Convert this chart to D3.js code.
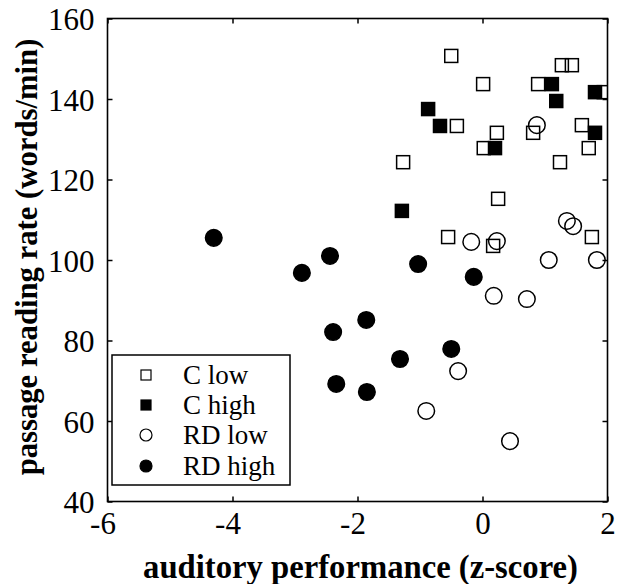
<!DOCTYPE html>
<html><head><meta charset="utf-8">
<script src="https://cdn.jsdelivr.net/npm/d3@7"></script>
<style>body{margin:0;background:#fff}svg{display:block}</style>
</head><body><svg id="c" width="620" height="584"></svg>
<script>
// ---- data ----
const xTicks = [-6, -4, -2, 0, 2];
const yTicks = [40, 60, 80, 100, 120, 140, 160];
const xTitle = "auditory performance (z-score)";
const yTitle = "passage reading rate (words/min)";
const seriesNames = ["C low", "C high", "RD low", "RD high"];

const cLowX = [-0.50, -0.41, 0.01, 0.02, 0.23, 0.25, -1.27, -0.55, 0.17, 0.81, 0.89, 1.27, 1.43, 1.24, 1.59, 1.70, 1.75, 1.94];
const cLowY = [150.7, 133.3, 143.7, 127.8, 131.6, 115.2, 124.3, 105.7, 103.5, 131.6, 143.7, 148.4, 148.4, 124.3, 133.5, 127.8, 105.7, 141.7];

const cHighX = [-0.87, -0.68, 0.20, 1.11, 1.18, 1.80, 1.80, -1.29];
const cHighY = [137.5, 133.3, 127.8, 143.7, 139.5, 141.7, 131.6, 112.2];

const rdLowX = [0.23, -0.18, 1.35, 1.45, 1.06, 1.83, 0.18, 0.71, -0.39, -0.90, 0.44, 0.87];
const rdLowY = [104.7, 104.5, 109.7, 108.4, 100.0, 100.0, 91.1, 90.3, 72.4, 62.5, 55.0, 133.5];

const rdHighX = [-4.30, -2.89, -2.44, -1.03, -0.14, -1.86, -2.39, -0.50, -1.32, -2.34, -1.85];
const rdHighY = [105.5, 96.8, 101.0, 99.0, 95.8, 85.1, 82.1, 77.9, 75.4, 69.2, 67.2];

// ---- layout ----
const svg = d3.select("#c");
const L = 107.5, R = 607.5, T = 18.5, B = 501.5;
const x = d3.scaleLinear().domain([-6, 2]).range([L, R]);
const y = d3.scaleLinear().domain([40, 160]).range([B, T]);
const font = "'Liberation Serif','Times New Roman',serif";

svg.append("defs").append("clipPath").attr("id", "clip")
  .append("rect").attr("x", L).attr("y", T).attr("width", R - L).attr("height", B - T);

// axes with inward ticks on all 4 sides
const tickLen = 5;
const gB = svg.append("g").attr("transform", `translate(0,${B})`)
  .call(d3.axisBottom(x).tickValues(xTicks).tickSizeInner(-tickLen).tickSizeOuter(0).tickPadding(11).tickFormat(d3.format("d")));
const gT = svg.append("g").attr("transform", `translate(0,${T})`)
  .call(d3.axisTop(x).tickValues(xTicks).tickSizeInner(-tickLen).tickSizeOuter(0).tickFormat(""));
const gL = svg.append("g").attr("transform", `translate(${L},0)`)
  .call(d3.axisLeft(y).tickValues(yTicks).tickSizeInner(-tickLen).tickSizeOuter(0).tickPadding(13).tickFormat(d3.format("d")));
const gR = svg.append("g").attr("transform", `translate(${R},0)`)
  .call(d3.axisRight(y).tickValues(yTicks).tickSizeInner(-tickLen).tickSizeOuter(0).tickFormat(""));
[gB, gT, gL, gR].forEach(g => {
  g.selectAll(".domain").remove();
  g.selectAll(".tick line").attr("stroke", "#000").attr("stroke-width", 1.5);
  g.selectAll("text").attr("font-family", font).attr("font-size", 31).attr("fill", "#000");
});
gB.selectAll("text").attr("dy", "0.7em")
  .attr("dx", d => d < 0 ? -5 : 0)
  .text(d => d < 0 ? "-" + Math.abs(d) : d);
gL.selectAll("text").attr("dy", "0.36em");

svg.append("rect").attr("x", L).attr("y", T).attr("width", R - L).attr("height", B - T)
  .attr("fill", "none").attr("stroke", "#000").attr("stroke-width", 1.6);

// titles (font size fitted to the reference's text extents)
function fit(sel, target) {
  const len = sel.node().getComputedTextLength();
  sel.attr("font-size", 28 * target / len);
}
const xt = svg.append("text").attr("x", 360.5).attr("y", 578).attr("text-anchor", "middle")
  .attr("font-family", font).attr("font-weight", "bold").attr("font-size", 28).text(xTitle);
fit(xt, 435);
const yt = svg.append("text").attr("transform", `translate(37,257) rotate(-90)`).attr("text-anchor", "middle")
  .attr("font-family", font).attr("font-weight", "bold").attr("font-size", 28).text(yTitle);
fit(yt, 437);

// marks
const plot = svg.append("g").attr("clip-path", "url(#clip)");
const sq = 13, cr = 8.3;
function squares(xs, ys, filled) {
  plot.append("g").selectAll("rect").data(xs.map((v, i) => [v, ys[i]])).join("rect")
    .attr("x", d => x(d[0]) - sq / 2).attr("y", d => y(d[1]) - sq / 2)
    .attr("width", sq).attr("height", sq)
    .attr("fill", filled ? "#000" : "none").attr("stroke", "#000").attr("stroke-width", 1.5);
}
function circles(xs, ys, filled) {
  plot.append("g").selectAll("circle").data(xs.map((v, i) => [v, ys[i]])).join("circle")
    .attr("cx", d => x(d[0])).attr("cy", d => y(d[1])).attr("r", cr)
    .attr("fill", filled ? "#000" : "none").attr("stroke", "#000").attr("stroke-width", 1.5);
}
squares(cLowX, cLowY, false);
squares(cHighX, cHighY, true);
circles(rdLowX, rdLowY, false);
circles(rdHighX, rdHighY, true);

// legend
const lg = svg.append("g");
lg.append("rect").attr("x", 112).attr("y", 355).attr("width", 178).attr("height", 130)
  .attr("fill", "#fff").attr("stroke", "#000").attr("stroke-width", 1.5);
const rowY = [375, 405, 435, 466];
const mx = 146, ls = 10, lr = 6;
seriesNames.forEach((name, i) => {
  const cy = rowY[i];
  if (i < 2) {
    lg.append("rect").attr("x", mx - ls / 2).attr("y", cy - ls / 2).attr("width", ls).attr("height", ls)
      .attr("fill", i === 1 ? "#000" : "none").attr("stroke", "#000").attr("stroke-width", 1.2);
  } else {
    lg.append("circle").attr("cx", mx).attr("cy", cy).attr("r", lr)
      .attr("fill", i === 3 ? "#000" : "none").attr("stroke", "#000").attr("stroke-width", 1.2);
  }
  lg.append("text").attr("x", 183).attr("y", cy).attr("dy", "0.34em")
    .attr("font-family", font).attr("font-size", 27).text(name);
});
</script></body></html>
